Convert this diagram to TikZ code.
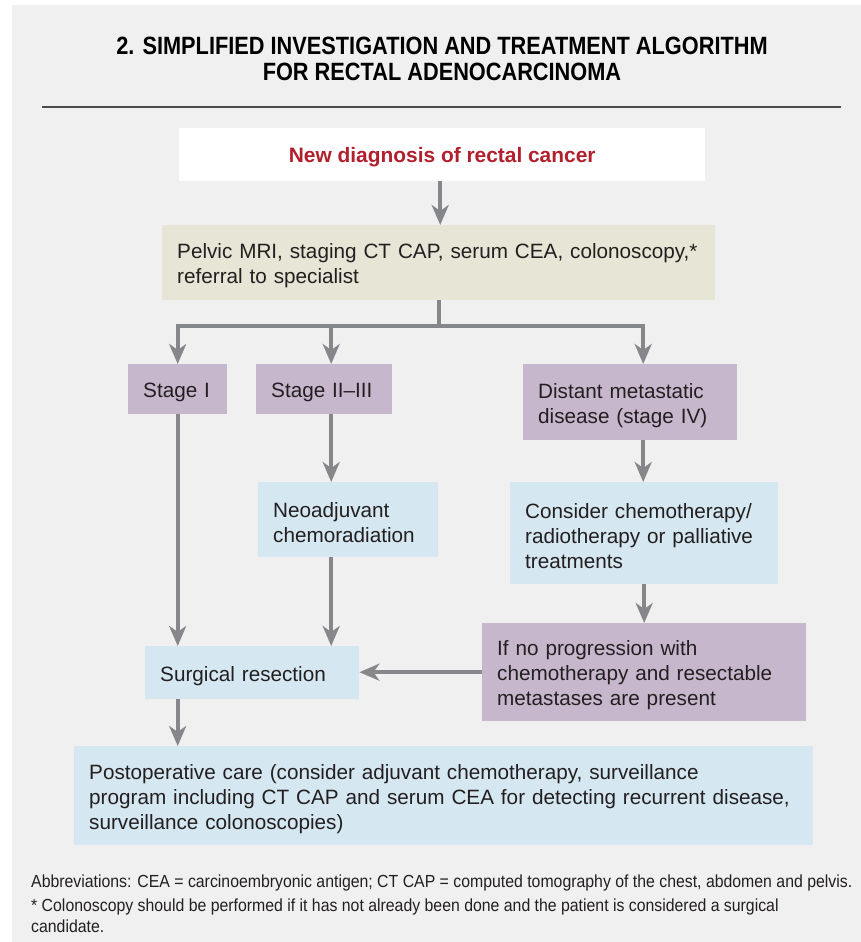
\documentclass[tikz,border=0pt]{standalone}
\usepackage{fontspec}
\setmainfont{Liberation Sans}
\newfontfamily\condfont[FakeStretch=0.87]{Liberation Sans}
\newfontfamily\notefont[FakeStretch=0.905]{Liberation Sans}
\usetikzlibrary{arrows.meta}
\definecolor{panel}{HTML}{F0F0F0}
\definecolor{beige}{HTML}{E7E5D5}
\definecolor{lilac}{HTML}{C6B7CD}
\definecolor{pale}{HTML}{D5E7F0}
\definecolor{arrowgray}{HTML}{86878B}
\definecolor{rulegray}{HTML}{4A4A4A}
\definecolor{redtxt}{HTML}{B21F2D}
\definecolor{txt}{HTML}{231F20}
\newcommand{\lift}{\rule{0pt}{21pt}}
\begin{document}
\begin{tikzpicture}[x=1pt,y=-1pt,
  box/.style={anchor=north west, inner xsep=15pt, inner ysep=0pt, align=left,
    text=txt, font=\fontsize{20.7}{25}\selectfont},
  ln/.style={line width=4pt, draw=arrowgray},
  arr/.style={line width=4pt, draw=arrowgray, -{Stealth[length=20pt, width=17pt, inset=6pt]}}]
\useasboundingbox (0,0) rectangle (861,942);
\fill[white] (0,0) rectangle (861,942);
\fill[panel] (12,5) rectangle (861,942);
% title
\node[font=\condfont\bfseries\fontsize{25}{26}\selectfont, align=center, text=black] (title) at (442,59)
  {2. SIMPLIFIED INVESTIGATION AND TREATMENT ALGORITHM\\FOR RECTAL ADENOCARCINOMA};
\draw[rulegray, line width=2pt] (42,107) -- (841,107);
% boxes
\node[anchor=north west, fill=white, minimum width=526, minimum height=53, inner sep=0pt,
  font=\bfseries\fontsize{20.9}{25}\selectfont, text=redtxt] (dx) at (179,128) {\lift New diagnosis of rectal cancer};
\node[box, fill=beige, minimum width=553, minimum height=75, text width=523] (mri) at (162,225)
  {\lift Pelvic MRI, staging CT CAP, serum CEA, colonoscopy,*\\referral to specialist};
\node[box, fill=lilac, minimum width=99, minimum height=50, text width=69] (s1) at (128,364) {\lift Stage I};
\node[box, fill=lilac, minimum width=136, minimum height=50, text width=106] (s2) at (256,364) {\lift Stage II--III};
\node[box, fill=lilac, minimum width=214, minimum height=76, text width=184] (s3) at (523,364)
  {\lift Distant metastatic\\disease (stage IV)};
\node[box, fill=pale, minimum width=180, minimum height=75, text width=150] (neo) at (258,482)
  {\lift Neoadjuvant\\chemoradiation};
\node[box, fill=pale, minimum width=268, minimum height=102, text width=238] (cons) at (510,482)
  {\lift Consider chemotherapy/\\radiotherapy or palliative\\treatments};
\node[box, fill=lilac, minimum width=324, minimum height=98, text width=294] (ifno) at (482,623)
  {\lift If no progression with\\chemotherapy and resectable\\metastases are present};
\node[box, fill=pale, minimum width=214, minimum height=53, text width=184] (surg) at (145,646) {\lift Surgical resection};
\node[box, fill=pale, minimum width=739, minimum height=99, text width=709] (post) at (74,746)
  {\lift Postoperative care (consider adjuvant chemotherapy, surveillance\\program including CT CAP and serum CEA for detecting recurrent disease,\\surveillance colonoscopies)};
% connectors
\draw[arr] ([xshift=-2pt]dx.south) -- ([xshift=-2pt]dx.south |- mri.north);
\draw[ln] (mri.south) -- ++(0,26) coordinate (br);
\draw[arr] (br) -| (s1.north);
\draw[arr] (br) -| ([xshift=7pt]s2.north);
\draw[arr] (br) -| ([xshift=13pt]s3.north);
\draw[arr] (s1.south) -- (s1.south |- surg.north);
\draw[arr] ([xshift=7pt]s2.south) -- ([xshift=7pt]s2.south |- neo.north);
\draw[arr] ([xshift=-17pt]neo.south) -- ([xshift=-17pt]neo.south |- surg.north);
\draw[arr] ([xshift=13pt]s3.south) -- ([xshift=13pt]s3.south |- cons.north);
\draw[arr] (cons.south) -- (cons.south |- ifno.north);
\draw[arr] (ifno.west) -- (ifno.west -| surg.east);
\draw[arr] (s1.south |- surg.south) -- (s1.south |- post.north);
% notes
\node[anchor=west, font=\notefont\fontsize{17.5}{21}\selectfont, text=txt, inner sep=0pt] (ab) at (31,883)
  {Abbreviations: CEA = carcinoembryonic antigen; CT CAP = computed tomography of the chest, abdomen and pelvis.};
\node[anchor=north west, align=left, font=\notefont\fontsize{17.5}{21}\selectfont, text=txt, inner sep=0pt] (fn) at (31,899)
  {* Colonoscopy should be performed if it has not already been done and the patient is considered a surgical\\candidate.};
\end{tikzpicture}
\end{document}
